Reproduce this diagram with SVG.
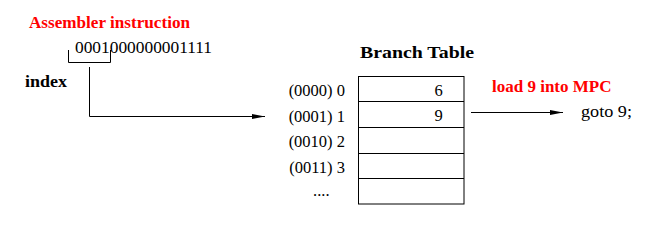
<svg xmlns="http://www.w3.org/2000/svg" width="647" height="227" viewBox="0 0 647 227">
<style>
text{font-family:"Liberation Serif","Times New Roman",serif;fill:#000}
.b{font-weight:bold}
.red{fill:#ff0000;font-weight:bold}
.ln{stroke:#000;stroke-width:1;fill:none}
.lbl{font-size:16.5px}
</style>
<defs>
<marker id="ah" markerWidth="14" markerHeight="8" refX="13" refY="4" orient="auto" markerUnits="userSpaceOnUse">
<path d="M0,1.5 L13,4 L0,6.5 Z" fill="#000"/>
</marker>
</defs>
<rect width="647" height="227" fill="#fff"/>
<g id="instruction">
<text x="29" y="28" class="red" font-size="16.5" textLength="161" lengthAdjust="spacingAndGlyphs">Assembler instruction</text>
<text x="75" y="53" font-size="17" textLength="137" lengthAdjust="spacingAndGlyphs">0001000000001111</text>
<path class="ln" d="M68.5,50 V62.5 H110.5 V50"/>
</g>
<g id="index">
<text x="25" y="86.5" class="b" font-size="17" textLength="42" lengthAdjust="spacingAndGlyphs">index</text>
</g>
<g id="table">
<text x="360" y="57.5" class="b" font-size="17" textLength="114" lengthAdjust="spacingAndGlyphs">Branch Table</text>
<rect x="358.5" y="76.5" width="105.5" height="127.5" class="ln"/>
<path class="ln" d="M358.5,101.5 H464 M358.5,127.5 H464 M358.5,153.5 H464 M358.5,178.5 H464"/>
<text x="438.5" y="95.5" class="lbl" text-anchor="middle">6</text>
<text x="438.5" y="120.5" class="lbl" text-anchor="middle">9</text>
<g class="lbl" text-anchor="end">
<text x="345" y="96">(0000) 0</text>
<text x="345" y="121.5">(0001) 1</text>
<text x="345" y="147">(0010) 2</text>
<text x="345" y="173">(0011) 3</text>
<text x="329.5" y="196">....</text>
</g>
</g>
<g id="target">
<text x="492" y="92" class="red" font-size="16.5" textLength="119.5" lengthAdjust="spacingAndGlyphs">load 9 into MPC</text>
<text x="581" y="117" class="lbl" textLength="51" lengthAdjust="spacingAndGlyphs">goto 9;</text>
</g>
<g id="connectors">
<path class="ln" d="M89.5,67 V116.5 H265" marker-end="url(#ah)"/>
<path class="ln" d="M471,112.5 H563" marker-end="url(#ah)"/>
</g>
</svg>
